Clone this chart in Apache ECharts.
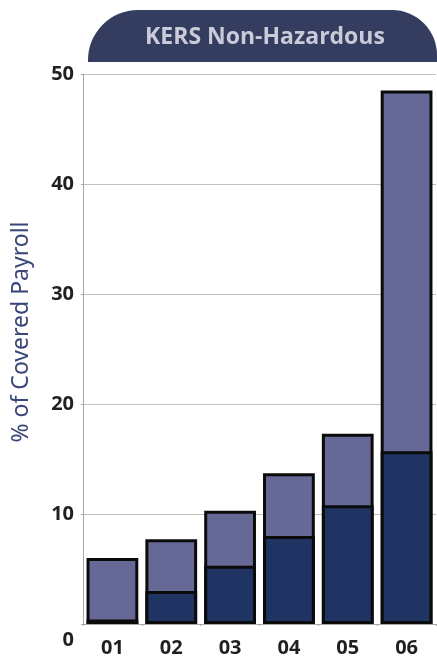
<!DOCTYPE html>
<html><head><meta charset="utf-8">
<script src="https://cdn.jsdelivr.net/npm/echarts@6/dist/echarts.min.js"></script>
<style>html,body{margin:0;padding:0;background:#fff}#c{width:437px;height:656px}</style>
</head><body><div id="c"></div>
<script>
const categories = ['01','02','03','04','05','06'];
const darkValues = [0.4, 3.0, 5.3, 8.0, 10.8, 15.7];
const totalValues = [6.0, 7.7, 10.3, 13.7, 17.3, 48.5];
const yTicks = [0, 10, 20, 30, 40, 50];
const titleText = 'KERS Non-Hazardous';
const yName = '% of Covered Payroll';

const chart = echarts.init(document.getElementById('c'), null, {renderer:'canvas'});
const barBorder = {borderColor:'#0b0b0b', borderWidth:3};
chart.setOption({
  animation:false,
  backgroundColor:'#ffffff',
  grid:{left:83, right:1, top:74, bottom:32, containLabel:false, outerBoundsMode:'none'},
  graphic:[
    {type:'rect', x:88, y:10, shape:{width:349, height:52, r:[50,45,0,0]}, style:{fill:'#343d5f'}, z:0},
    {type:'text', x:265, y:37, style:{text:titleText, fill:'#c9cbd8', font:'bold 23px "Open Sans"', align:'center', verticalAlign:'middle'}, z:1}
  ],
  xAxis:{
    type:'category', data:categories,
    axisLine:{lineStyle:{color:'#a8a8a8', width:1}},
    axisTick:{show:true, length:2, lineStyle:{color:'#a8a8a8'}},
    axisLabel:{color:'#231f20', fontFamily:'Open Sans', fontWeight:'bold', fontSize:20, margin:14}
  },
  yAxis:{
    type:'value', min:yTicks[0], max:yTicks[yTicks.length-1], interval:10,
    name:yName, nameLocation:'middle', nameGap:50, nameRotate:90,
    nameTextStyle:{color:'#3a4678', fontFamily:'Noto Sans', fontSize:23, fontWeight:'normal', padding:[0,0,0,34]},
    axisLine:{show:true, lineStyle:{color:'#a8a8a8', width:1}},
    axisTick:{show:true, length:2, lineStyle:{color:'#a8a8a8'}},
    splitLine:{show:true, lineStyle:{color:'#c0c0c0', width:1}},
    axisLabel:{color:'#231f20', fontFamily:'Open Sans', fontWeight:'bold', fontSize:20, margin:9,
      formatter:function(v){ return v===0 ? '{z|0}' : String(v); },
      rich:{z:{color:'#231f20', fontFamily:'Open Sans', fontWeight:'bold', fontSize:20, padding:[32,0,0,0]}}
    }
  },
  series:[
    {type:'bar', name:'total', data:totalValues, barWidth:'88%', barGap:'-100%', itemStyle:Object.assign({color:'#666896'}, barBorder), z:2},
    {type:'bar', name:'dark', data:darkValues, barWidth:'88%', barGap:'-100%', itemStyle:Object.assign({color:'#1f3462'}, barBorder), z:3}
  ]
});
</script></body></html>
